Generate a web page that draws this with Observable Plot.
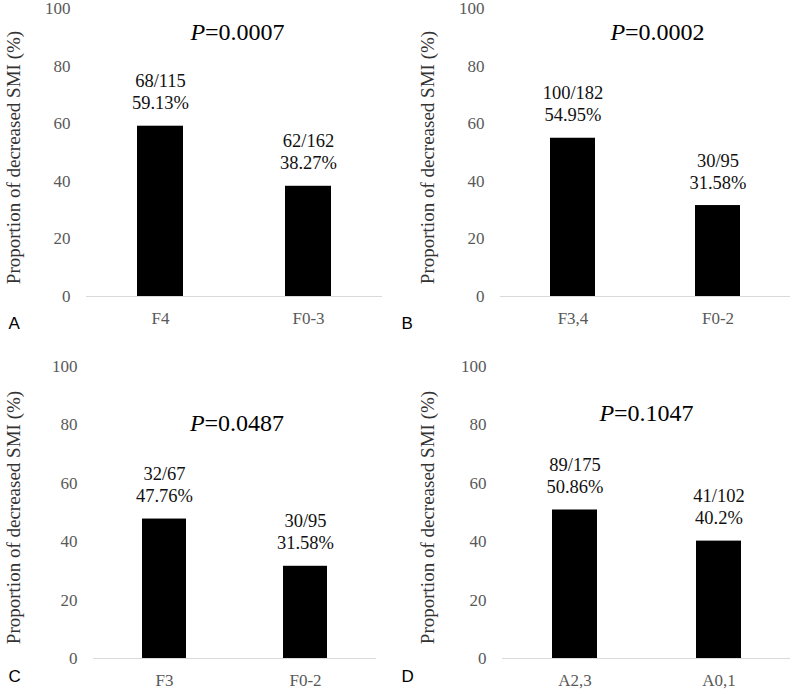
<!DOCTYPE html>
<html>
<head>
<meta charset="utf-8">
<script src="https://cdn.jsdelivr.net/npm/d3@7"></script>
<script src="https://cdn.jsdelivr.net/npm/@observablehq/plot@0.6"></script>
<style>
  html, body { margin: 0; padding: 0; background: #fff; }
  #wrap { position: relative; width: 800px; height: 692px; }
  .panel { position: absolute; width: 400px; height: 346px; }
  .panel svg { overflow: visible; font-family: "Liberation Serif", serif; }
</style>
</head>
<body>
<div id="wrap"></div>
<script>
// ---- data ----
const panelLetters = ["A", "B", "C", "D"];
const categories = [["F4", "F0-3"], ["F3,4", "F0-2"], ["F3", "F0-2"], ["A2,3", "A0,1"]];
const proportions = [[59.13, 38.27], [54.95, 31.58], [47.76, 31.58], [50.86, 40.2]];
const counts = [["68/115", "62/162"], ["100/182", "30/95"], ["32/67", "30/95"], ["89/175", "41/102"]];
const percentLabels = [["59.13%", "38.27%"], ["54.95%", "31.58%"], ["47.76%", "31.58%"], ["50.86%", "40.2%"]];
const pValues = ["0.0007", "0.0002", "0.0487", "0.1047"];
const yTicks = [0, 20, 40, 60, 80, 100];
const yLabel = "Proportion of decreased SMI (%)";

// ---- layout (per panel) ----
const layout = [
  {left: 0,   top: 0,   mL: 86,  mR: 18, mT: 8,  mB: 50, labelX: 13, letterX: 8, letterDy: 27, titleDy: 24, titleDx: 3},
  {left: 400, top: 0,   mL: 100, mR: 10, mT: 8,  mB: 50, labelX: 27, letterX: 1, letterDy: 27, titleDy: 24, titleDx: 12},
  {left: 0,   top: 346, mL: 93,  mR: 24, mT: 20, mB: 34, labelX: 13, letterX: 8, letterDy: 18, titleDy: 57, titleDx: 2},
  {left: 400, top: 346, mL: 102, mR: 10, mT: 20, mB: 34, labelX: 27, letterX: 1, letterDy: 18, titleDy: 47, titleDx: 0}
];

const serif = "Liberation Serif";
const sans = "Liberation Sans";
const wrap = document.getElementById("wrap");

panelLetters.forEach((letter, i) => {
  const L = layout[i];
  const rows = categories[i].map((c, j) => ({
    cat: c, value: proportions[i][j], label: counts[i][j] + "\n" + percentLabels[i][j]
  }));
  const titleSize = 24;
  // italic P width ~0.611em, "=0.xxxx" ~3.314em
  const total = (0.611 + 3.314) * titleSize;
  const pEnd = -total / 2 + 0.611 * titleSize + L.titleDx;

  const chart = Plot.plot({
    width: 400,
    height: 346,
    marginLeft: L.mL,
    marginRight: L.mR,
    marginTop: L.mT,
    marginBottom: L.mB,
    style: {fontFamily: serif, fontSize: "17px", background: "transparent", overflow: "visible"},
    x: {domain: categories[i], paddingInner: 0.69, paddingOuter: 0.345, label: null},
    y: {domain: [0, 100], label: null},
    marks: [
      Plot.axisY({ticks: yTicks, tickSize: 0, tickPadding: 16, label: null, color: "#595959", fontSize: 17, fontFamily: serif}),
      Plot.axisX({tickSize: 0, tickPadding: 15, label: null, color: "#595959", fontSize: 17, fontFamily: serif}),
      Plot.barY(rows, {x: "cat", y: "value", fill: "#000"}),
      Plot.ruleY([0], {stroke: "#d9d9d9", strokeWidth: 1.2}),
      Plot.text(rows, {x: "cat", y: "value", text: "label", dy: -35, lineAnchor: "middle", lineHeight: 1.2, fontSize: 18.5, fill: "#111", fontFamily: serif}),
      // title P=...
      Plot.text(["P"], {frameAnchor: "top", dy: L.titleDy, dx: pEnd, textAnchor: "end", lineAnchor: "middle", fontSize: titleSize, fontStyle: "italic", fontFamily: serif, fill: "#000"}),
      Plot.text(["=" + pValues[i]], {frameAnchor: "top", dy: L.titleDy, dx: pEnd, textAnchor: "start", lineAnchor: "middle", fontSize: titleSize, fontFamily: serif, fill: "#000"}),
      // y label
      Plot.text([yLabel], {frameAnchor: "left", dx: L.labelX - L.mL, dy: 5, rotate: -90, textAnchor: "middle", lineAnchor: "middle", fontSize: 19, fill: "#333", fontFamily: serif}),
      // panel letter
      Plot.text([letter], {frameAnchor: "bottom-left", dx: L.letterX - L.mL, dy: L.letterDy, textAnchor: "start", lineAnchor: "middle", fontSize: 17, fill: "#000", fontFamily: sans})
    ]
  });
  const div = document.createElement("div");
  div.className = "panel";
  div.style.left = L.left + "px";
  div.style.top = L.top + "px";
  div.appendChild(chart);
  wrap.appendChild(div);
});
</script>
</body>
</html>
